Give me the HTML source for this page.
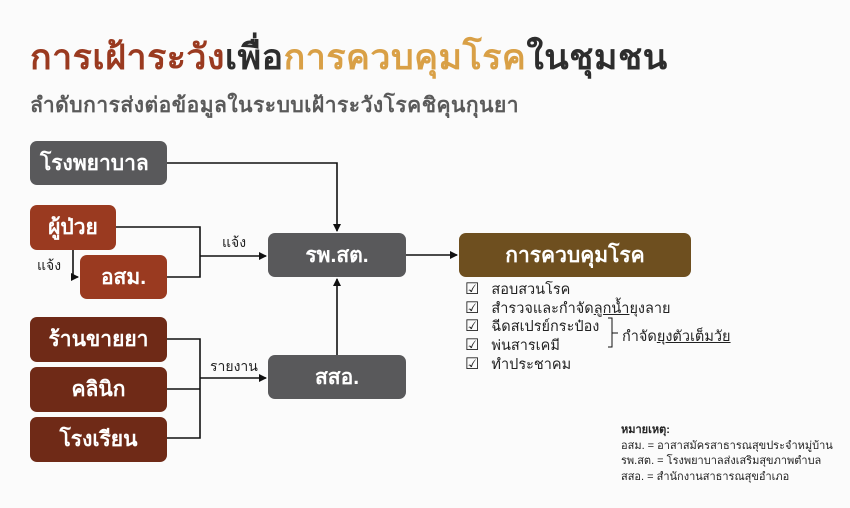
<!DOCTYPE html>
<html><head><meta charset="utf-8"><style>
body{margin:0;width:850px;height:508px;background:#fbfbfb;font-family:"Liberation Sans","Noto Sans CJK SC","WenQuanYi Zen Hei",sans-serif;position:relative;overflow:hidden}
.b{position:absolute;border-radius:7px;color:#fff;font-weight:bold;font-size:21px;display:flex;align-items:center;justify-content:center;box-sizing:border-box}
.g{background:#59595b}.r{background:#9a3a20}.d{background:#6f2a17}
.t{position:absolute;white-space:nowrap}
</style></head><body>
<div class="t" style="left:30px;top:30px;font-size:35px;font-weight:bold;letter-spacing:0.5px;transform:scaleX(1.02);transform-origin:left"><span style="color:#9a3a20">การเฝ้าระวัง</span><span style="color:#2d2d2d">เพื่อ</span><span style="color:#d9a046">การควบคุมโรค</span><span style="color:#2d2d2d">ในชุมชน</span></div>
<div class="t" style="left:30px;top:89px;font-size:21px;font-weight:bold;color:#5a5a5a;letter-spacing:0.5px">ลำดับการส่งต่อข้อมูลในระบบเฝ้าระวังโรคชิคุนกุนยา</div>

<div class="b g" style="left:30px;top:141px;width:137px;height:44px;justify-content:flex-start;padding-left:10px">โรงพยาบาล</div>
<div class="b r" style="left:30px;top:205px;width:86px;height:45px">ผู้ป่วย</div>
<div class="b r" style="left:80px;top:255px;width:87px;height:44px">อสม.</div>
<div class="b d" style="left:30px;top:317px;width:137px;height:45px">ร้านขายยา</div>
<div class="b d" style="left:30px;top:367px;width:137px;height:45px">คลินิก</div>
<div class="b d" style="left:30px;top:417px;width:137px;height:45px">โรงเรียน</div>
<div class="b g" style="left:268px;top:233px;width:138px;height:44px">รพ.สต.</div>
<div class="b g" style="left:268px;top:355px;width:138px;height:44px">สสอ.</div>
<div class="b" style="left:459px;top:233px;width:232px;height:44px;background:#6e4f1f">การควบคุมโรค</div>

<svg width="850" height="508" style="position:absolute;left:0;top:0" fill="none" stroke="#111" stroke-width="1.6">
<defs><marker id="a" markerWidth="8" markerHeight="8" refX="7" refY="4" orient="auto" markerUnits="userSpaceOnUse"><path d="M0,0 L8,4 L0,8z" fill="#111" stroke="none"/></marker></defs>
<path d="M167,163 H337 V231" marker-end="url(#a)"/>
<path d="M116,227 H200 V277 H167"/>
<path d="M200,256 H266" marker-end="url(#a)"/>
<path d="M73,250 V277 H78" marker-end="url(#a)"/>
<path d="M167,339 H200 V438 H167 M167,389 H200"/>
<path d="M200,378 H266" marker-end="url(#a)"/>
<path d="M337,355 V279" marker-end="url(#a)"/>
<path d="M406,255 H457" marker-end="url(#a)"/>
<path d="M608,318 H612 V347 H608 M612,333 H618" stroke-width="1"/>
</svg>
<div class="t" style="left:222px;top:232px;font-size:14px;color:#222">แจ้ง</div>
<div class="t" style="left:37px;top:255px;font-size:14px;color:#222">แจ้ง</div>
<div class="t" style="left:210px;top:356px;font-size:14px;color:#222">รายงาน</div>

<div class="t" style="left:465px;top:281px;font-size:14.5px;line-height:18.7px;color:#222">
<span style="font-size:16px">☑</span>&nbsp;&nbsp; สอบสวนโรค<br><span style="font-size:16px">☑</span>&nbsp;&nbsp; สำรวจและกำจัด<u>ลูกน้ำ</u>ยุงลาย<br><span style="font-size:16px">☑</span>&nbsp;&nbsp; ฉีดสเปรย์กระป๋อง<br><span style="font-size:16px">☑</span>&nbsp;&nbsp; พ่นสารเคมี<br><span style="font-size:16px">☑</span>&nbsp;&nbsp; ทำประชาคม</div>
<div class="t" style="left:622px;top:325px;font-size:14.5px;color:#222">กำจัด<u>ยุงตัวเต็มวัย</u></div>

<div class="t" style="left:621px;top:423px;font-size:11px;line-height:15.5px;color:#222"><b>หมายเหตุ:</b><br>อสม. = อาสาสมัครสาธารณสุขประจำหมู่บ้าน<br>รพ.สต. = โรงพยาบาลส่งเสริมสุขภาพตำบล<br>สสอ. = สำนักงานสาธารณสุขอำเภอ</div>
</body></html>
